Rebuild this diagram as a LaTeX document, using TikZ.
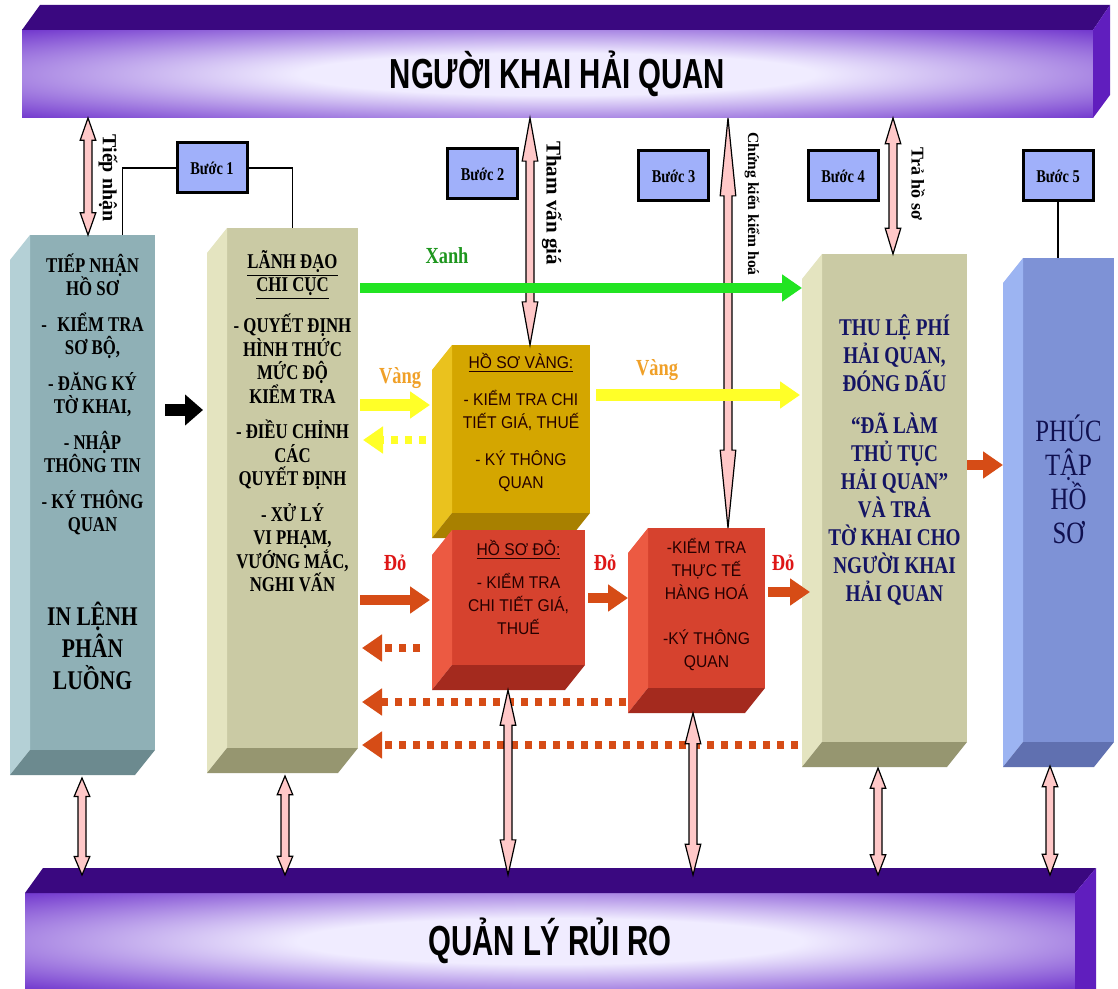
\documentclass[tikz,border=0pt]{standalone}
\usepackage{fontspec}
\setmainfont{Liberation Serif}
\newfontfamily\narrowserif[FakeStretch=0.8]{Liberation Serif}
\newfontfamily\narrowsans[FakeStretch=0.92]{Liberation Sans}
\newfontfamily\barsans[FakeStretch=0.7]{Liberation Sans}
\usetikzlibrary{positioning,calc,arrows.meta}

\definecolor{barpurple}{RGB}{100,36,200}
\definecolor{barlight}{RGB}{240,236,255}
\definecolor{bardark}{RGB}{58,8,128}
\definecolor{barside}{RGB}{96,30,190}
\definecolor{tealfront}{RGB}{143,176,182}
\definecolor{tealleft}{RGB}{180,208,214}
\definecolor{tealbottom}{RGB}{108,138,143}
\definecolor{tanfront}{RGB}{202,202,164}
\definecolor{tanleft}{RGB}{228,228,192}
\definecolor{tanbottom}{RGB}{150,150,112}
\definecolor{goldfront}{RGB}{212,166,0}
\definecolor{goldleft}{RGB}{234,194,30}
\definecolor{goldbottom}{RGB}{168,128,0}
\definecolor{redfront}{RGB}{214,66,46}
\definecolor{redleft}{RGB}{236,90,66}
\definecolor{redbottom}{RGB}{164,42,30}
\definecolor{bluefront}{RGB}{126,146,214}
\definecolor{blueleft}{RGB}{156,180,242}
\definecolor{bluebottom}{RGB}{96,112,176}
\definecolor{stepblue}{RGB}{160,176,250}
\definecolor{flowgreen}{RGB}{34,228,34}
\definecolor{labelgreen}{RGB}{30,150,30}
\definecolor{flowyellow}{RGB}{255,255,40}
\definecolor{labelorange}{RGB}{240,160,40}
\definecolor{flowred}{RGB}{214,76,22}
\definecolor{labelred}{RGB}{222,22,22}
\definecolor{pinkfill}{RGB}{255,200,200}
\definecolor{navytext}{RGB}{20,20,100}

\pgfdeclareradialshading{barglow}{\pgfpointorigin}{color(0bp)=(barlight); color(12bp)=(barlight); color(38bp)=(barpurple); color(50bp)=(barpurple)}

\tikzset{
  barbox/.style={shade, shading=barglow, inner sep=0pt, outer sep=0pt,
    font=\barsans\bfseries\fontsize{21}{24}\selectfont},
  box3d/.style={inner sep=0pt, outer sep=0pt},
  boxtext/.style={align=center, inner sep=0pt, anchor=north,
    font=\narrowserif\bfseries\fontsize{10.5}{11.75}\selectfont},
  smalltext/.style={align=center, inner sep=0pt, anchor=north, text=black!85!red,
    font=\narrowsans\fontsize{8.5}{11.5}\selectfont},
  stepbox/.style={draw=black, line width=1.5pt, fill=stepblue, inner sep=0pt,
    minimum width=35pt, minimum height=25pt,
    font=\narrowserif\bfseries\fontsize{9}{10}\selectfont},
  steplink/.style={draw=black, line width=0.6pt},
  flow/.style={line width=5pt, -{Triangle[length=10pt,width=13pt]}},
  backflow/.style={line width=4pt, dash pattern=on 3.5pt off 3.5pt,
    -{Triangle[length=10pt,width=13pt]}},
  flowlabel/.style={inner sep=0pt, font=\narrowserif\bfseries\fontsize{11.5}{12}\selectfont},
  vlabel/.style={rotate=-90, inner sep=0pt, font=\bfseries},
  pinkarr/.style={fill=pinkfill, draw=black, line width=0.6pt, line join=miter},
}

% side and bottom faces of a box
\newcommand\boxsides[3]{%
  \fill[#2] (#1.north west) -- ++(-20,25) -- ($(#1.south west)+(-20,25)$) -- (#1.south west) -- cycle;
  \fill[#3] (#1.south west) -- ++(-20,25) -- ($(#1.south east)+(-20,25)$) -- (#1.south east) -- cycle;}

% pink up-down arrow, top point first
\newcommand\pinkdbl[2]{%
  \draw[pinkarr] let \p1=#1, \p2=#2, \p3=($#1!0.19!#2$), \p4=($#2!0.19!#1$) in
    (\x1,\y1) -- (\x1+3.9pt,\y3) -- (\x1+2pt,\y3) -- (\x1+2pt,\y4) -- (\x1+3.9pt,\y4)
    -- (\x1,\y2) -- (\x1-3.9pt,\y4) -- (\x1-2pt,\y4) -- (\x1-2pt,\y3) -- (\x1-3.9pt,\y3) -- cycle;}

\begin{document}
\begin{tikzpicture}[x=0.5pt, y=-0.5pt]
  % Canvas
  \useasboundingbox (0,0) rectangle (1118,989);
  \fill[white] (0,0) rectangle (1118,989);

  % Bars
  \node[barbox, minimum width=535.5pt, minimum height=44pt] (bartop) at (557.5,74) {NGƯỜI KHAI HẢI QUAN};
  \fill[bardark] (bartop.north west) -- ++(18,-25) -- ($(bartop.north east)+(17,-25)$) -- (bartop.north east) -- cycle;
  \fill[barside] (bartop.north east) -- ++(17,-25) -- ($(bartop.south east)+(17,-23)$) -- (bartop.south east) -- cycle;

  \node[barbox, minimum width=525pt, minimum height=48pt] (barbot) at (550,941) {QUẢN LÝ RỦI RO};
  \fill[bardark] (barbot.north west) -- ++(18,-25) -- ($(barbot.north east)+(21,-25)$) -- (barbot.north east) -- cycle;
  \fill[barside] (barbot.north east) -- ++(21,-25) -- ($(barbot.south east)+(21,0)$) -- (barbot.south east) -- cycle;
  \coordinate (barFace) at ($(barbot.north)+(0,-18)$);

  % Boxes
  \node[box3d, fill=tealfront, minimum width=62.5pt, minimum height=257.5pt] (tn) at (92.5,492.5) {};
  \boxsides{tn}{tealleft}{tealbottom}
  \node[box3d, fill=tanfront, minimum width=65.5pt, minimum height=260pt] (ld) at (292.5,488) {};
  \boxsides{ld}{tanleft}{tanbottom}
  \node[box3d, fill=goldfront, minimum width=69pt, minimum height=84pt] (hv) at (521,429) {};
  \boxsides{hv}{goldleft}{goldbottom}
  \node[box3d, fill=redfront, minimum width=66.5pt, minimum height=67.5pt] (hd) at (518.5,597.5) {};
  \boxsides{hd}{redleft}{redbottom}
  \node[box3d, fill=redfront, minimum width=58.5pt, minimum height=80pt] (kt) at (706.5,608) {};
  \boxsides{kt}{redleft}{redbottom}
  \node[box3d, fill=tanfront, minimum width=72.5pt, minimum height=244pt] (tl) at (894.5,498) {};
  \boxsides{tl}{tanleft}{tanbottom}
  \node[box3d, fill=bluefront, minimum width=45.5pt, minimum height=242pt] (pt) at (1068.5,500) {};
  \boxsides{pt}{blueleft}{bluebottom}

  % Box texts
  \node[boxtext, below=9pt of tn.north] (tnText) {TIẾP NHẬN\\ HỒ SƠ\\[6pt] -\enspace KIỂM TRA\\ SƠ BỘ,\\[6pt]
    - ĐĂNG KÝ\\ TỜ KHAI,\\[6pt] - NHẬP\\ THÔNG TIN\\[6pt] - KÝ THÔNG\\ QUAN};
  \node[boxtext, font=\narrowserif\bfseries\fontsize{13.5}{16}\selectfont, above=30pt of tn.south] (tnLenh) {IN LỆNH\\ PHÂN\\ LUỒNG};
  \node[boxtext, below=11pt of ld.north] (ldText) {\underline{LÃNH ĐẠO}\\ \underline{CHI CỤC}\\[6pt]
    - QUYẾT ĐỊNH\\ HÌNH THỨC\\ MỨC ĐỘ\\ KIỂM TRA\\[6pt] - ĐIỀU CHỈNH\\ CÁC\\ QUYẾT ĐỊNH\\[6pt]
    - XỬ LÝ\\ VI PHẠM,\\ VƯỚNG MẮC,\\ NGHI VẤN};
  \node[smalltext, below=4pt of hv.north] (hvText) {\underline{HỒ SƠ VÀNG:}\\[7pt] - KIỂM TRA CHI\\ TIẾT GIÁ, THUẾ\\[7pt] - KÝ THÔNG\\ QUAN};
  \node[smalltext, below=5pt of hd.north] (hdText) {\underline{HỒ SƠ ĐỎ:}\\[5pt] - KIỂM TRA\\ CHI TIẾT GIÁ,\\ THUẾ};
  \node[smalltext, below=5pt of kt.north] (ktText) {-KIỂM TRA\\ THỰC TẾ\\ HÀNG HOÁ\\[11pt] -KÝ THÔNG\\ QUAN};
  \node[boxtext, text=navytext, font=\narrowserif\bfseries\fontsize{12}{14}\selectfont, below=30pt of tl.north] (tlText)
    {THU LỆ PHÍ\\ HẢI QUAN,\\ ĐÓNG DẤU\\[7pt] “ĐÃ LÀM\\ THỦ TỤC\\ HẢI QUAN”\\ VÀ TRẢ\\ TỜ KHAI CHO\\ NGƯỜI KHAI\\ HẢI QUAN};
  \node[boxtext, text=navytext!80!black, font=\narrowserif\fontsize{15.5}{17}\selectfont, below=78pt of pt.north] (ptText) {PHÚC\\ TẬP\\ HỒ\\ SƠ};

  % Steps
  \node[stepbox] (b1) at (212,168) {Bước 1};
  \node[stepbox] (b2) at (482.5,174) {Bước 2};
  \node[stepbox] (b3) at (673.5,176) {Bước 3};
  \node[stepbox] (b4) at (843,176) {Bước 4};
  \node[stepbox] (b5) at (1058,176) {Bước 5};
  \draw[steplink] (b1.west) -| ($(tn.north)+(30,0)$);
  \draw[steplink] (b1.east) -| (ld.north);
  \draw[steplink] ($(b2.south)+(4,0)$) -- ($(b2.south)+(4,0)$ |- hv.north);
  \draw[steplink] ($(b3.south)+(6,0)$) -- ($(b3.south)+(6,0)$ |- kt.north);
  \draw[steplink] ($(b4.south)+(4,0)$) -- ($(b4.south)+(4,0)$ |- tl.north);
  \draw[steplink] (b5.south) -- (b5.south |- pt.north);

  % Returns
  \draw[backflow, flowyellow] ($(hv.west |- 0,440)+(-26,0)$) -- ($(ld.east |- 0,440)+(5,0)$);
  \draw[backflow, flowred] ($(hd.west |- 0,648)+(-32,0)$) -- ($(ld.east |- 0,648)+(4,0)$);
  \draw[backflow, flowred] ($(kt.west |- 0,702)+(-22,0)$) -- ($(ld.east |- 0,702)+(4,0)$);
  \draw[backflow, flowred] ($(tl.west |- 0,745)+(-24,0)$) -- ($(ld.east |- 0,745)+(4,0)$);

  % Pink arrows
  \coordinate (tnBase) at ($(tn.south)+(0,28)$);
  \coordinate (ldBase) at ($(ld.south)+(0,28)$);
  \coordinate (hdBase) at ($(hd.south)+(0,25)$);
  \coordinate (ktBase) at ($(kt.south)+(0,25)$);
  \coordinate (tlBase) at ($(tl.south)+(0,26)$);
  \coordinate (ptBase) at ($(pt.south)+(0,24)$);
  \pinkdbl{(88,0 |- bartop.south)}{(88,0 |- tn.north)}
  \pinkdbl{(530,0 |- bartop.south)}{(530,0 |- hv.north)}
  \pinkdbl{(728,0 |- bartop.south)}{(728,0 |- kt.north)}
  \pinkdbl{(893,0 |- bartop.south)}{(893,0 |- tl.north)}
  \pinkdbl{(82,0 |- tnBase)}{(82,0 |- barFace)}
  \pinkdbl{(285,0 |- ldBase)}{(285,0 |- barFace)}
  \pinkdbl{(508,0 |- hdBase)}{(508,0 |- barFace)}
  \pinkdbl{(693,0 |- ktBase)}{(693,0 |- barFace)}
  \pinkdbl{(878,0 |- tlBase)}{(878,0 |- barFace)}
  \pinkdbl{(1050,0 |- ptBase)}{(1050,0 |- barFace)}

  % Flows
  \draw[flow, black, line width=6pt, -{Triangle[length=9pt,width=15pt]}] ($(tn.east |- 0,410)+(10,0)$) -- ($(ld.west |- 0,410)+(-24,0)$);
  \draw[flow, flowgreen] ($(ld.east |- 0,288)+(2,0)$) -- ($(tl.west |- 0,288)+(-20,0)$);
  \draw[flow, flowyellow, line width=6pt] ($(ld.east |- 0,405)+(2,0)$) -- ($(hv.west |- 0,405)+(-22,0)$);
  \draw[flow, flowyellow, line width=6pt] ($(hv.east |- 0,395)+(6,0)$) -- ($(tl.west |- 0,395)+(-22,0)$);
  \draw[flow, flowred] ($(ld.east |- 0,600)+(2,0)$) -- ($(hd.west |- 0,600)+(-22,0)$);
  \draw[flow, flowred] ($(hd.east |- 0,598)+(3,0)$) -- ($(kt.west |- 0,598)+(-20,0)$);
  \draw[flow, flowred] ($(kt.east |- 0,592)+(3,0)$) -- ($(tl.west |- 0,592)+(-12,0)$);
  \draw[flow, flowred] (tl.east |- 0,465) -- ($(pt.west |- 0,465)+(-20,0)$);

  % Flow labels
  \node[flowlabel, text=labelgreen] (lblXanh) at (447,256) {Xanh};
  \node[flowlabel, text=labelorange] (lblVang1) at (400,378) {Vàng};
  \node[flowlabel, text=labelorange] (lblVang2) at (657,370) {Vàng};
  \node[flowlabel, text=labelred] (lblDo1) at (395,563) {Đỏ};
  \node[flowlabel, text=labelred] (lblDo2) at (605,563) {Đỏ};
  \node[flowlabel, text=labelred] (lblDo3) at (783,563) {Đỏ};

  % Vertical labels
  \node[vlabel, font=\bfseries\fontsize{10}{11}\selectfont] (lblTiep) at (108,178) {Tiếp nhận};
  \node[vlabel, font=\bfseries\fontsize{10.5}{11}\selectfont] (lblTham) at (552,203) {Tham vấn giá};
  \node[vlabel, font=\bfseries\fontsize{7.8}{9}\selectfont] (lblChung) at (752,204) {Chứng kiến kiểm hoá};
  \node[vlabel, font=\bfseries\fontsize{9}{10}\selectfont] (lblTra) at (918,184) {Trả hồ sơ};
\end{tikzpicture}
\end{document}
